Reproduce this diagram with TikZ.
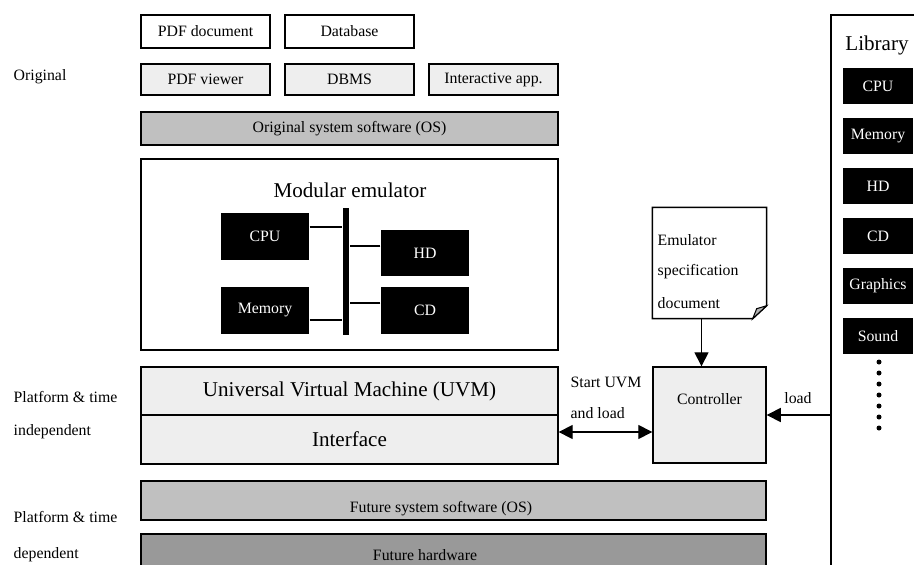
\documentclass[tikz,border=0pt]{standalone}
\usepackage{fontspec}
\setmainfont{Liberation Serif}
\usepackage{xcolor}
\usetikzlibrary{arrows.meta, positioning, calc}
\definecolor{boxlight}{HTML}{EEEEEE}
\definecolor{boxmid}{HTML}{C0C0C0}
\definecolor{boxdark}{HTML}{999999}

\begin{document}
\begin{tikzpicture}[x=0.02cm, y=-0.02cm, line width=0.8pt,
  sm/.style={font=\fontsize{9}{11}\selectfont},
  lg/.style={font=\fontsize{12}{14}\selectfont},
  plain/.style={draw, sm, minimum width=2.58cm, minimum height=0.66cm},
  app/.style={plain, fill=boxlight, minimum height=0.62cm},
  layer/.style={draw, fill=#1, minimum width=8.34cm},
  module/.style={fill=black, text=white, sm, minimum width=1.76cm, minimum height=0.94cm},
  libmod/.style={fill=black, text=white, sm, minimum width=1.4cm, minimum height=0.72cm},
  arr/.style={-{Triangle[length=8pt,width=8pt]}},
  darr/.style={{Triangle[length=8pt,width=8pt]}-{Triangle[length=8pt,width=8pt]}},
  side/.style={sm, anchor=west, inner sep=0pt}]
\clip (0,0) rectangle (914,565);

% Original environment
\node[side] (orig) at (13,77) {Original};
\node[plain] (pdfdoc) at (205.5,31.5) {PDF document};
\node[plain] (db) at (349.5,31.5) {Database};
\node[app] (viewer) at (205.5,79.5) {PDF viewer};
\node[app] (dbms) at (349.5,79.5) {DBMS};
\node[app] (interapp) at (493.5,79.5) {Interactive app.};
\node[layer=boxmid, minimum height=0.66cm, sm] (oldos) at (349.5,128.5) {Original system software (OS)};

% Modular emulator
\node[draw, minimum width=8.34cm, minimum height=3.82cm] (emu) at (349.5,254.5) {};
\node[lg] (emutitle) at (350,190) {Modular emulator};
\node[module] (cpu) at (265,236.5) {CPU};
\node[module] (mem) at (265,310.5) {Memory};
\node[module] (hd) at (425,253) {HD};
\node[module] (cd) at (425,310.5) {CD};
\node[fill=black, inner sep=0pt, minimum width=0.12cm, minimum height=2.54cm] (bus) at (346,271.5) {};
\draw[line width=1.1pt] ($(cpu.east)+(0,-9.5)$) coordinate (b1) -- (b1 -| bus.west);
\draw[line width=1.1pt] ($(mem.east)+(0,9.5)$) coordinate (b2) -- (b2 -| bus.west);
\draw[line width=1.1pt] ($(hd.west)+(0,-7)$) coordinate (b3) -- (b3 -| bus.east);
\draw[line width=1.1pt] ($(cd.west)+(0,-7.5)$) coordinate (b4) -- (b4 -| bus.east);

% UVM layers
\node[side] (indep1) at (13,397) {Platform \& time};
\node[side] (indep2) at (13,432) {independent};
\node[layer=boxlight, minimum height=0.96cm, lg] (uvm) at (349.5,391) {Universal Virtual Machine (UVM)};
\node[layer=boxlight, minimum height=0.98cm, lg] (iface) at (349.5,439.5) {Interface};

% Future platform
\node[side] (dep1) at (13,517) {Platform \& time};
\node[side] (dep2) at (13,555) {dependent};
\node[layer=boxmid, minimum width=12.5cm, minimum height=0.78cm] (newos) at (453.5,500.5) {};
\node[sm] (newostext) at (441,509) {Future system software (OS)};
\node[layer=boxdark, minimum width=12.5cm, minimum height=1cm] (newhw) at (453.5,559) {};
\node[sm] (newhwtext) at (425,555) {Future hardware};

% Controller and specification
\node[draw, fill=boxlight, minimum width=2.26cm, minimum height=1.92cm] (ctrl) at (709.5,415) {};
\node[sm] (ctrltext) at (709.5,399) {Controller};
\node[inner sep=0pt, minimum width=2.26cm, minimum height=2.2cm] (spec) at (709.5,263) {};
\draw (spec.north west) -- (spec.north east) -- ($(spec.south east)+(0,-13)$)
  -- ($(spec.south east)+(-14,0)$) -- (spec.south west) -- cycle;
\filldraw[fill=gray!60, line width=0.6pt] ($(spec.south east)+(0,-13)$)
  -- ($(spec.south east)+(-14,0)$) -- ($(spec.south east)+(-10,-10)$) -- cycle;
\node[side] at (657,240) {Emulator};
\node[side] at (657,272) {specification};
\node[side] at (657,303) {document};
\draw[arr] ($(spec.south)+(-8,0)$) -- ($(ctrl.north)+(-8,0)$);
\draw[darr] ($(iface.east)+(0,-7.5)$) coordinate (a1) -- (a1 -| ctrl.west);
\node[side] (startlbl) at (570,382) {Start UVM};
\node[side] (loadlbl) at (570,413) {and load};

% Library
\node[draw, line width=1pt, anchor=north west, minimum width=2.6cm, minimum height=11.8cm] (lib) at (830,14) {};
\node[lg] (libtitle) at (877,45) {Library};
\foreach \name [count=\i] in {CPU,Memory,HD,CD,Graphics,Sound}
  \node[libmod] (lib\i) at (878,36+50*\i) {\name};
\foreach \k in {0,...,6}
  \fill (879,362+11*\k) circle (0.05cm);
\draw[arr] (ctrl.east -| lib.west) -- (ctrl.east);
\node[sm] (libload) at (798,398) {load};
\end{tikzpicture}
\end{document}
